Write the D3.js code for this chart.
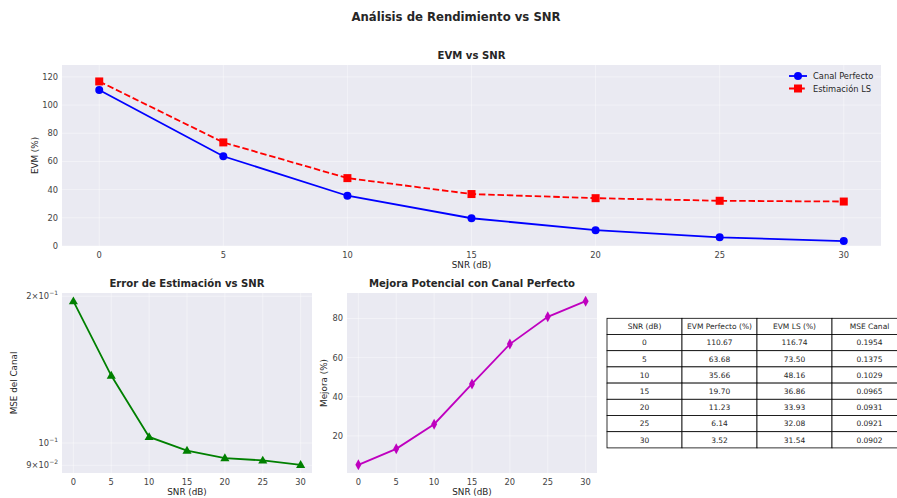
<!DOCTYPE html>
<html>
<head>
<meta charset="utf-8">
<script src="https://cdn.jsdelivr.net/npm/d3@7"></script>
<style>
  body { margin: 0; background: #fff; }
  svg { font-family: "DejaVu Sans", sans-serif; }
</style>
</head>
<body>
<div id="chart"></div>
<script>
// data
var snr = [0, 5, 10, 15, 20, 25, 30];
var evmPerfecto = [110.67, 63.68, 35.66, 19.70, 11.23, 6.14, 3.52];
var evmLS = [116.74, 73.50, 48.16, 36.86, 33.93, 32.08, 31.54];
var mseCanal = [0.1954, 0.1375, 0.1029, 0.0965, 0.0931, 0.0921, 0.0902];
var mejora = [5.20, 13.36, 25.96, 46.55, 66.90, 80.86, 88.84];
var tableHeader = ["SNR (dB)", "EVM Perfecto (%)", "EVM LS (%)", "MSE Canal"];

var W = 897, H = 498;
var txt = "#262626", tick = "#444", bg = "#eaeaf2";
var gridOp = 0.5;

var svg = d3.select("#chart").append("svg")
    .attr("width", W).attr("height", H);

svg.append("text")
    .attr("x", 456).attr("y", 21)
    .attr("text-anchor", "middle")
    .style("font-size", "11.7px").style("font-weight", "bold")
    .attr("fill", txt)
    .text("Análisis de Rendimiento vs SNR");

function panel(box, title, xlab, ylab) {
    var g = svg.append("g");
    g.append("rect")
        .attr("x", box.x0).attr("y", box.y0)
        .attr("width", box.x1 - box.x0).attr("height", box.y1 - box.y0)
        .attr("fill", bg);
    g.append("text")
        .attr("x", (box.x0 + box.x1) / 2).attr("y", box.y0 - 6)
        .attr("text-anchor", "middle")
        .style("font-size", "10.1px").style("font-weight", "bold")
        .attr("fill", txt).text(title);
    g.append("text")
        .attr("x", (box.x0 + box.x1) / 2).attr("y", box.y1 + 22)
        .attr("text-anchor", "middle")
        .style("font-size", "8.8px").attr("fill", txt).text(xlab);
    g.append("text")
        .attr("transform", "translate(" + box.ylx + "," + (box.y0 + box.y1) / 2 + ") rotate(-90)")
        .attr("text-anchor", "middle")
        .style("font-size", "8.8px").attr("fill", txt).text(ylab);
    return g;
}

function xAxis(g, x, box) {
    var ticks = [0, 5, 10, 15, 20, 25, 30];
    g.selectAll(".vg").data(ticks).enter().append("line")
        .attr("x1", d => x(d)).attr("x2", d => x(d))
        .attr("y1", box.y0).attr("y2", box.y1)
        .attr("stroke", "#fff").attr("stroke-width", 0.8).attr("stroke-opacity", gridOp);
    g.selectAll(".xt").data(ticks).enter().append("text")
        .attr("x", d => x(d)).attr("y", box.y1 + 12)
        .attr("text-anchor", "middle")
        .style("font-size", "8.3px").attr("fill", tick)
        .text(d => d);
}

function yAxis(g, y, box, ticks, fmt) {
    g.selectAll(".hg").data(ticks).enter().append("line")
        .attr("x1", box.x0).attr("x2", box.x1)
        .attr("y1", d => y(d)).attr("y2", d => y(d))
        .attr("stroke", "#fff").attr("stroke-width", 0.8).attr("stroke-opacity", gridOp);
    g.selectAll(".yt").data(ticks).enter().append("text")
        .attr("x", box.x0 - 4).attr("y", d => y(d) + 3)
        .attr("text-anchor", "end")
        .style("font-size", "8.3px").attr("fill", tick)
        .text(fmt);
}

// ---- top panel: EVM vs SNR
var b1 = {x0: 62, x1: 881, y0: 65, y1: 246, ylx: 38};
var g1 = panel(b1, "EVM vs SNR", "SNR (dB)", "EVM (%)");
var x1 = d3.scaleLinear().domain([-1.5, 31.5]).range([b1.x0, b1.x1]);
var y1 = d3.scaleLinear().domain([0, d3.max(evmLS) * 1.1]).range([b1.y1, b1.y0]);
xAxis(g1, x1, b1);
yAxis(g1, y1, b1, [0, 20, 40, 60, 80, 100, 120], d => d);

var line1 = d3.line().x((d, i) => x1(snr[i])).y(d => y1(d));
g1.append("path").datum(evmPerfecto).attr("d", line1)
    .attr("fill", "none").attr("stroke", "blue").attr("stroke-width", 1.8);
g1.append("path").datum(evmLS).attr("d", line1)
    .attr("fill", "none").attr("stroke", "red").attr("stroke-width", 1.8)
    .attr("stroke-dasharray", "6.5,2.8");
g1.selectAll(".c").data(evmPerfecto).enter().append("circle")
    .attr("cx", (d, i) => x1(snr[i])).attr("cy", d => y1(d)).attr("r", 4)
    .attr("fill", "blue");
g1.selectAll(".s").data(evmLS).enter().append("rect")
    .attr("x", (d, i) => x1(snr[i]) - 4).attr("y", d => y1(d) - 4)
    .attr("width", 8).attr("height", 8).attr("fill", "red");

// legend
var lg = g1.append("g").attr("transform", "translate(789,76)");
lg.append("line").attr("x1", 0).attr("x2", 18).attr("y1", 0).attr("y2", 0)
    .attr("stroke", "blue").attr("stroke-width", 1.8);
lg.append("circle").attr("cx", 9).attr("cy", 0).attr("r", 4).attr("fill", "blue");
lg.append("text").attr("x", 24).attr("y", 3).style("font-size", "8.3px")
    .attr("fill", txt).text("Canal Perfecto");
lg.append("line").attr("x1", 0).attr("x2", 18).attr("y1", 12.5).attr("y2", 12.5)
    .attr("stroke", "red").attr("stroke-width", 1.8).attr("stroke-dasharray", "6.5,2.8");
lg.append("rect").attr("x", 5).attr("y", 8.5).attr("width", 8).attr("height", 8).attr("fill", "red");
lg.append("text").attr("x", 24).attr("y", 15.5).style("font-size", "8.3px")
    .attr("fill", txt).text("Estimación LS");

// ---- bottom left: MSE (log)
var b2 = {x0: 62, x1: 312, y0: 293, y1: 473, ylx: 17};
var g2 = panel(b2, "Error de Estimación vs SNR", "SNR (dB)", "MSE del Canal");
var x2 = d3.scaleLinear().domain([-1.5, 31.5]).range([b2.x0, b2.x1]);
var lmin = Math.log10(d3.min(mseCanal)), lmax = Math.log10(d3.max(mseCanal)), lpad = (lmax - lmin) * 0.05;
var y2 = d3.scaleLog().domain([Math.pow(10, lmin - lpad), Math.pow(10, lmax + lpad)])
    .range([b2.y1, b2.y0]);
xAxis(g2, x2, b2);
var mseTicks = [0.09, 0.1, 0.2];
g2.selectAll(".hg").data(mseTicks).enter().append("line")
    .attr("x1", b2.x0).attr("x2", b2.x1)
    .attr("y1", d => y2(d)).attr("y2", d => y2(d))
    .attr("stroke", "#fff").attr("stroke-width", 0.8).attr("stroke-opacity", gridOp);
var mseLab = [["9", "−2", true], ["10", "−1", false], ["2", "−1", true]];
mseTicks.forEach(function (v, i) {
    var t = g2.append("text")
        .attr("x", b2.x0 - 4).attr("y", y2(v) + 3)
        .attr("text-anchor", "end")
        .style("font-size", "8.3px").attr("fill", tick);
    var m = mseLab[i];
    if (m[2]) t.append("tspan").text(m[0] + "\u00d710");
    else t.append("tspan").text("10");
    t.append("tspan").attr("dy", -4).style("font-size", "6px").text(m[1]);
});
g2.append("path").datum(mseCanal)
    .attr("d", d3.line().x((d, i) => x2(snr[i])).y(d => y2(d)))
    .attr("fill", "none").attr("stroke", "green").attr("stroke-width", 1.8);
g2.selectAll(".t").data(mseCanal).enter().append("path")
    .attr("d", d3.symbol().type(d3.symbolTriangle).size(36))
    .attr("transform", (d, i) => "translate(" + x2(snr[i]) + "," + (y2(d) + 0.5) + ")")
    .attr("fill", "green");

// ---- bottom middle: Mejora
var b3 = {x0: 347, x1: 597, y0: 293, y1: 473, ylx: 327};
var g3 = panel(b3, "Mejora Potencial con Canal Perfecto", "SNR (dB)", "Mejora (%)");
var x3 = d3.scaleLinear().domain([-1.5, 31.5]).range([b3.x0, b3.x1]);
var mpad = (d3.max(mejora) - d3.min(mejora)) * 0.05;
var y3 = d3.scaleLinear().domain([d3.min(mejora) - mpad, d3.max(mejora) + mpad])
    .range([b3.y1, b3.y0]);
xAxis(g3, x3, b3);
yAxis(g3, y3, b3, [20, 40, 60, 80], d => d);
g3.append("path").datum(mejora)
    .attr("d", d3.line().x((d, i) => x3(snr[i])).y(d => y3(d)))
    .attr("fill", "none").attr("stroke", "#bf00bf").attr("stroke-width", 1.8);
g3.selectAll(".d").data(mejora).enter().append("path")
    .attr("d", "M0,-5.5L3,0L0,5.5L-3,0Z")
    .attr("transform", (d, i) => "translate(" + x3(snr[i]) + "," + y3(d) + ")")
    .attr("fill", "#bf00bf");

// ---- table
var rows = snr.map((s, i) => [String(s), evmPerfecto[i].toFixed(2), evmLS[i].toFixed(2), mseCanal[i].toFixed(4)]);
var tx = 607, ty = 318.3, cw = 75, rh = 16.2;
var tg = svg.append("g");
[tableHeader].concat(rows).forEach(function (r, ri) {
    r.forEach(function (c, ci) {
        tg.append("rect")
            .attr("x", tx + ci * cw).attr("y", ty + ri * rh)
            .attr("width", cw).attr("height", rh)
            .attr("fill", "#fff").attr("stroke", "#000").attr("stroke-width", 0.8);
        tg.append("text")
            .attr("x", tx + ci * cw + cw / 2).attr("y", ty + ri * rh + rh / 2 + 2.7)
            .attr("text-anchor", "middle")
            .style("font-size", "7.5px").attr("fill", txt)
            .text(c);
    });
});
</script>
</body>
</html>
